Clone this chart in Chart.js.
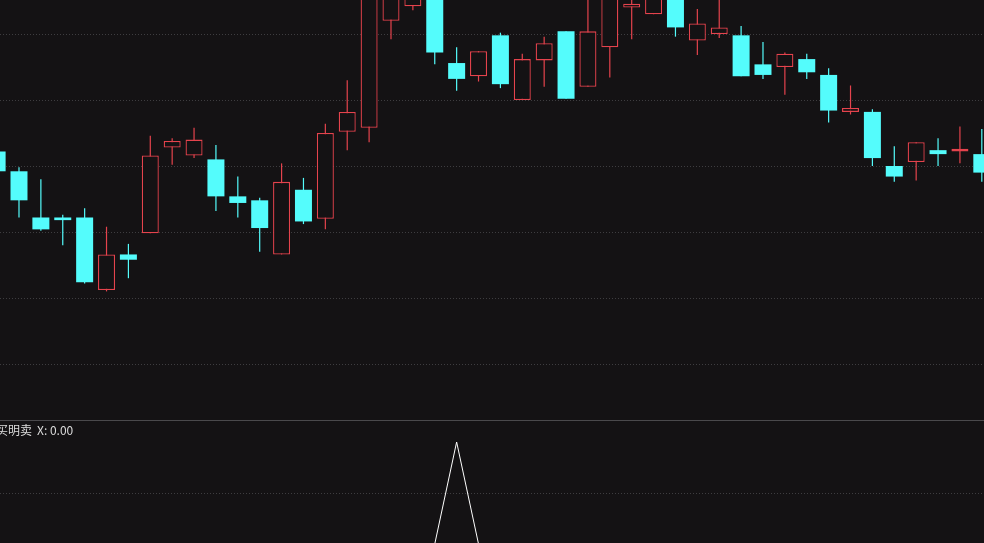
<!DOCTYPE html>
<html>
<head>
<meta charset="utf-8">
<script src="https://cdn.jsdelivr.net/npm/chart.js@4.4.0/dist/chart.umd.min.js"></script>
<style>
    html, body { margin: 0; padding: 0; background: #141214; overflow: hidden; }
    #wrap { position: relative; width: 984px; height: 543px; background: #141214; }
    #kline { position: absolute; left: 0; top: 0; }
    #divider { position: absolute; left: 0; top: 420px; width: 984px; height: 1px; background: #4a494c; }
    #signal { position: absolute; left: 0; top: 421px; }
    #label {
        position: absolute; left: -4px; top: 421px;
        font: 12px "Noto Sans CJK SC", "Noto Sans", sans-serif;
        color: #dcdcdc; white-space: nowrap; z-index: 2;
    }
    #label span { margin-left: 5px; }
</style>
</head>
<body>
<div id="wrap">
    <canvas id="kline" width="984" height="420"></canvas>
    <div id="divider"></div>
    <div id="label">买明卖<span>X: 0.00</span></div>
    <canvas id="signal" width="984" height="122"></canvas>
</div>
<script>
// K线数据 (从图上读出, 每根一条)
const openPrices  = [11.61, 11.46, 11.11, 11.11, 11.11, 10.56, 10.83, 10.99, 11.64, 11.58,
                     11.55, 11.27, 11.24, 10.83, 11.32, 11.10, 11.76, 11.79, 12.60, 12.71,
                     12.91, 12.28, 12.18, 12.49, 12.00, 12.30, 12.52, 12.10, 12.40, 12.70,
                     12.65, 12.83, 12.45, 12.50, 12.49, 12.27, 12.25, 12.31, 12.19, 11.91,
                     11.91, 11.50, 11.53, 11.62, 11.61, 11.59];
const highPrices  = [11.63, 11.49, 11.40, 11.13, 11.18, 11.04, 10.91, 11.73, 11.71, 11.79,
                     11.66, 11.42, 11.26, 11.52, 11.41, 11.82, 12.15, 12.95, 13.17, 12.91,
                     12.98, 12.40, 12.37, 12.51, 12.35, 12.48, 12.52, 12.87, 13.06, 12.83,
                     12.98, 12.95, 12.69, 12.83, 12.56, 12.44, 12.36, 12.35, 12.24, 12.11,
                     11.93, 11.65, 11.68, 11.71, 11.80, 11.78];
const lowPrices   = [11.44, 11.11, 11.01, 10.90, 10.61, 10.55, 10.65, 10.99, 11.51, 11.56,
                     11.16, 11.11, 10.85, 10.83, 11.06, 11.02, 11.62, 11.68, 12.46, 12.68,
                     12.27, 12.07, 12.14, 12.09, 12.00, 12.10, 12.01, 12.10, 12.17, 12.46,
                     12.65, 12.48, 12.34, 12.47, 12.18, 12.16, 12.04, 12.16, 11.83, 11.89,
                     11.50, 11.38, 11.39, 11.50, 11.52, 11.38];
const closePrices = [11.46, 11.24, 11.02, 11.09, 10.62, 10.83, 10.79, 11.58, 11.69, 11.70,
                     11.27, 11.22, 11.03, 11.38, 11.08, 11.75, 11.91, 12.85, 13.06, 12.82,
                     12.36, 12.16, 12.37, 12.12, 12.31, 12.43, 12.01, 12.52, 12.91, 12.73,
                     12.87, 12.55, 12.58, 12.55, 12.18, 12.19, 12.35, 12.21, 11.92, 11.94,
                     11.56, 11.42, 11.68, 11.59, 11.63, 11.45];
// 指标 X (买明卖)
const signalValues = [0, 0, 0, 0, 0, 0, 0, 0, 0, 0, 0, 0, 0, 0, 0, 0, 0, 0, 0, 0, 0, 1,
                      0, 0, 0, 0, 0, 0, 0, 0, 0, 0, 0, 0, 0, 0, 0, 0, 0, 0, 0, 0, 0, 0, 0, 0];
// 网格线
const priceGrid = [10, 10.5, 11, 11.5, 12, 12.5];
const signalGrid = [0.5];

const BG = '#141214';
const UP = '#e5434d';
const DOWN = '#54fcfc';
const GRID = '#3e3d40';

const isUp = i => closePrices[i] >= openPrices[i];
const bodies = openPrices.map((o, i) => ({ x: i, y: [o, closePrices[i]] }));
const wicks = lowPrices.map((l, i) => ({ x: i, y: [l, highPrices[i]] }));

const xAxis = { type: 'linear', display: false, offset: false, min: 0.132, max: 45.1 };

function gridAxis(min, max, levels) {
    return {
        display: true,
        min, max,
        afterBuildTicks: axis => { axis.ticks = levels.map(v => ({ value: v })); },
        ticks: { display: false },
        grid: { color: GRID, lineWidth: 1, drawTicks: false },
        border: { display: false, dash: [1, 2] }
    };
}

new Chart(document.getElementById('kline').getContext('2d'), {
    type: 'bar',
    data: {
        datasets: [{
            data: bodies,
            order: 0,
            grouped: false,
            barThickness: 17,
            inflateAmount: 0,
            borderSkipped: false,
            borderWidth: ctx => isUp(ctx.dataIndex) ? 1.3 : 0,
            borderColor: ctx => isUp(ctx.dataIndex) ? UP : DOWN,
            backgroundColor: ctx => isUp(ctx.dataIndex) ? BG : DOWN
        }, {
            data: wicks,
            order: 1,
            grouped: false,
            barThickness: 1.2,
            inflateAmount: 0,
            borderWidth: 0,
            backgroundColor: ctx => isUp(ctx.dataIndex) ? UP : DOWN
        }]
    },
    options: {
        responsive: false,
        animation: false,
        layout: { padding: 0 },
        plugins: { legend: { display: false }, tooltip: { enabled: false } },
        scales: {
            x: xAxis,
            y: gridAxis(9.5758, 12.7576, priceGrid)
        }
    }
});

new Chart(document.getElementById('signal').getContext('2d'), {
    type: 'line',
    data: {
        datasets: [{
            data: signalValues.map((v, i) => ({ x: i, y: v })),
            borderColor: '#ffffff',
            borderWidth: 1,
            pointRadius: 0,
            tension: 0
        }]
    },
    options: {
        responsive: false,
        animation: false,
        layout: { padding: 0 },
        plugins: { legend: { display: false }, tooltip: { enabled: false } },
        scales: {
            x: xAxis,
            y: gridAxis(0.0098, 1.206, signalGrid)
        }
    }
});
</script>
</body>
</html>
